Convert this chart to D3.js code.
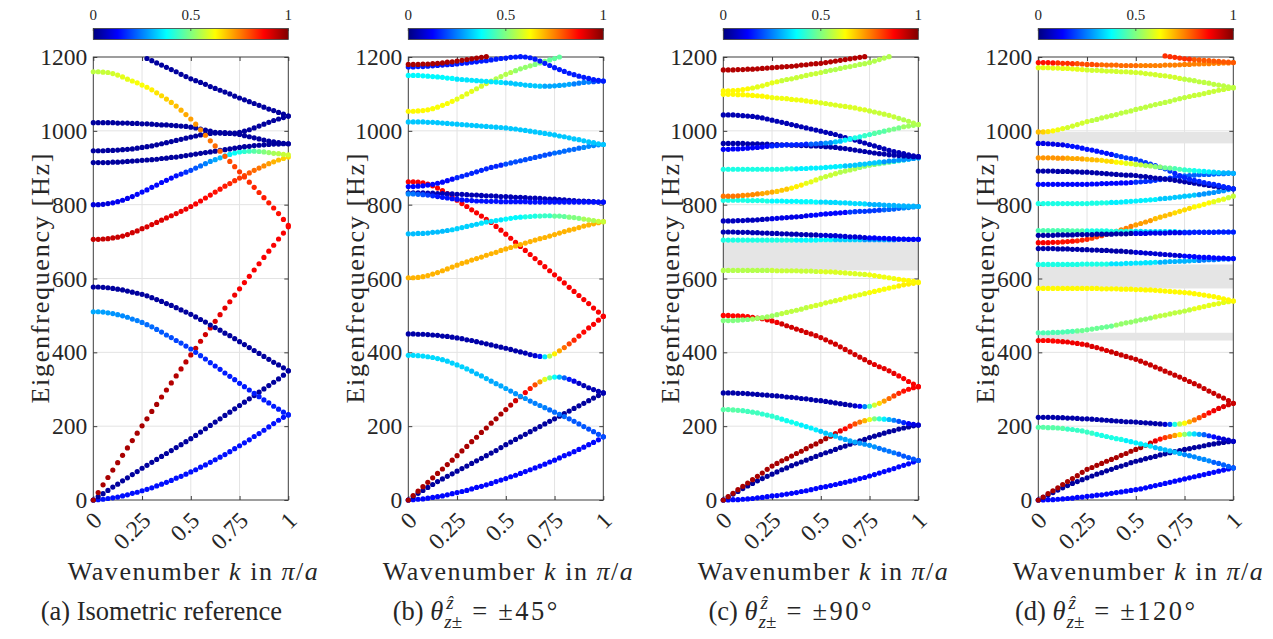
<!DOCTYPE html>
<html><head><meta charset="utf-8">
<script src="https://cdn.jsdelivr.net/npm/d3@7"></script>
<style>
body{margin:0;background:#fff;}
svg text, svg tspan{font-family:"Liberation Serif","Times New Roman",serif !important;fill:#262626;}
</style>
</head><body>
<svg id="chart" width="1273" height="639"></svg>
<script>
// ---------------- DATA ----------------
const kSamples = [0,0.025,0.05,0.075,0.1,0.125,0.15,0.175,0.2,0.225,0.25,0.275,0.3,0.325,0.35,0.375,0.4,0.425,0.45,0.475,0.5,0.525,0.55,0.575,0.6,0.625,0.65,0.675,0.7,0.725,0.75,0.775,0.8,0.825,0.85,0.875,0.9,0.925,0.95,0.975,1];
const kTicks = [0,0.25,0.5,0.75,1];
const kTickLabels = ["0","0.25","0.5","0.75","1"];
const fTicks = [0,200,400,600,800,1000,1200];
const cbTicks = [0,0.5,1];
const cbTickLabels = ["0","0.5","1"];
const panelLetters = ["(a)","(b)","(c)","(d)"];
const panelAngles = ["", "\u00B145\u00B0", "\u00B190\u00B0", "\u00B1120\u00B0"];

// Panel (a) isometric reference
const freqA = [
 [0,1,2,4,6,8,11,14,18,21,25,29,33,38,43,48,53,59,64,70,76,82,89,95,102,109,116,123,131,139,147,155,163,172,180,189,198,207,216,224,231],
 [0,9,17,26,35,43,52,60,69,77,86,94,102,110,118,126,134,142,150,158,166,175,184,193,202,211,220,229,238,247,256,265,274,283,292,301,310,319,328,338,350],
 [0,20,41,61,81,101,121,141,161,181,201,220,240,259,279,298,317,336,355,374,393,411,430,448,466,484,502,520,537,555,572,589,606,623,640,657,674,690,707,723,740],
 [510,510,509,507,505,502,499,495,490,486,481,475,469,462,455,447,440,432,425,417,409,400,391,382,372,363,354,344,335,326,316,307,298,289,280,271,263,254,246,238,230],
 [577,577,576,575,573,571,569,566,563,560,557,553,548,543,538,532,527,521,515,509,503,496,489,482,474,467,460,452,445,437,429,421,413,405,397,389,381,373,366,358,350],
 [706,706,707,708,710,712,715,719,724,729,735,740,746,752,758,764,770,776,782,788,795,802,810,818,826,834,842,850,857,865,872,879,886,893,899,905,911,916,921,925,929],
 [800,800,801,803,805,808,812,817,822,828,834,840,847,853,860,866,872,878,883,888,893,899,905,911,917,922,927,932,936,940,943,944,945,945,944,943,941,939,938,936,935],
 [914,914,914,914,915,915,916,917,918,919,920,921,922,923,925,926,928,929,931,933,935,937,939,941,943,945,947,949,951,953,955,957,958,960,961,962,963,964,964,965,965],
 [946,946,946,947,947,948,949,950,951,953,955,957,959,962,965,968,971,974,977,980,983,986,989,991,993,994,995,995,994,992,990,987,984,981,978,975,972,970,968,966,965],
 [1022,1022,1022,1022,1022,1021,1021,1021,1020,1020,1019,1019,1018,1017,1016,1016,1015,1014,1013,1012,1010,1008,1005,1002,999,996,994,993,993,994,996,999,1003,1008,1013,1018,1023,1028,1032,1036,1040],
 [1160,1160,1159,1158,1155,1151,1146,1140,1135,1130,1124,1118,1111,1103,1095,1086,1077,1067,1056,1044,1032,1018,1003,988,973,959,945,931,917,903,889,875,861,847,833,819,805,791,776,760,744],
 [null,null,null,null,null,null,null,null,null,null,null,1196,1190,1184,1178,1172,1166,1160,1153,1147,1141,1136,1131,1126,1120,1115,1110,1105,1100,1094,1089,1084,1079,1074,1069,1064,1059,1055,1050,1045,1040]
];
// colour value (0..1) per curve: a number, or [value,count] runs along k, or an explicit list
const colA = [
 .14, .03,
 [[.96,14],[.95,4],[.94,2],[.93,2],[.92,2],[.91,2],[.9,2],[.89,2],[.88,11]],
 [[.29,2],[.28,2],[.27,2],[.26,2],[.25,2],[.24,1],[.23,2],[.22,1],[.21,2],[.2,1],[.19,2],[.18,2],[.17,2],[.16,2],[.15,16]],
 .03,
 [[.93,6],[.92,5],[.91,4],[.9,3],[.89,3],[.88,2],[.87,2],[.86,2],[.85,1],[.84,1],[.83,1],[.82,1],[.8,1],[.79,1],[.77,1],[.76,1],[.74,1],[.72,1],[.7,1],[.69,1],[.67,1],[.66,1]],
 [[.09,4],[.11,5],[.13,8],[.14,1],[.15,1],[.17,1],[.19,1],[.21,1],[.23,1],[.25,1],[.27,1],[.29,1],[.31,1],[.34,1],[.36,1],[.38,1],[.4,1],[.42,1],[.44,1],[.46,1],[.48,1],[.5,1],[.52,1],[.54,1],[.55,1],[.57,1],[.58,1]],
 .03, .03, .03,
 [.56,.56,.57,.57,.58,.59,.6,.6,.61,.62,.62,.63,.64,.65,.66,.67,.68,.69,.7,.71,.72,.73,.74,.75,.76,.77,.78,.79,.8,.81,.82,.82,.83,.84,.84,.85,.85,.86,.86,.87,.87],
 .03
];
const gapsA = [];

// Panel (b) +-45
const freqB = [
 [0,1,2,3,5,7,9,11,14,17,20,23,26,30,34,37,41,45,50,54,58,63,67,72,77,82,87,92,97,103,108,114,120,125,131,137,143,150,156,163,171],
 [0,9,18,26,34,42,50,57,64,71,78,85,92,99,106,113,120,127,134,142,150,157,164,171,178,185,192,199,206,213,220,227,234,241,248,255,262,269,276,283,290],
 [0,12,24,36,48,60,72,84,96,108,120,133,145,158,170,183,195,208,220,233,245,257,269,280,291,302,312,320,327,331,333,333,331,327,322,316,310,304,299,294,290],
 [392,392,391,390,388,386,383,380,376,371,366,361,355,349,342,336,329,322,315,309,302,295,288,281,275,268,262,256,250,244,238,232,226,220,213,206,199,192,185,178,171],
 [450,450,449,449,448,447,446,444,443,441,439,437,434,432,429,426,423,420,417,414,411,408,404,401,398,394,391,389,388,390,396,404,413,423,433,444,455,466,476,487,497],
 [862,862,861,859,856,851,845,838,830,821,812,803,795,786,778,769,760,752,741,731,720,709,698,687,676,665,654,643,632,621,610,599,588,576,565,554,543,532,520,509,498],
 [602,602,603,605,608,612,616,621,626,631,636,641,645,650,654,658,663,667,671,676,680,684,688,692,696,700,704,708,711,715,719,723,727,731,734,738,742,745,748,751,754],
 [721,721,722,722,723,725,726,728,730,732,735,738,741,744,747,750,753,755,757,759,761,763,765,766,767,768,769,769,770,770,769,769,768,766,765,763,761,759,757,755,754],
 [832,832,832,832,831,831,830,830,829,829,828,828,827,826,826,825,824,824,823,822,822,821,820,820,819,818,818,817,816,815,815,814,813,812,811,810,810,809,808,807,807],
 [829,829,828,827,826,824,822,820,818,816,815,813,812,811,810,810,809,809,809,808,808,808,808,808,808,807,807,807,807,807,807,807,807,807,807,807,807,807,807,807,807],
 [849,849,850,851,853,855,858,861,865,869,873,877,881,885,889,893,897,901,904,907,910,913,916,919,922,925,928,931,934,937,940,942,945,948,950,953,955,958,960,962,963],
 [1024,1024,1024,1024,1023,1023,1022,1021,1020,1019,1018,1017,1016,1015,1014,1013,1012,1011,1010,1009,1008,1006,1005,1003,1001,999,997,995,993,991,989,986,984,981,978,976,973,970,968,965,963],
 [1053,1053,1054,1055,1057,1060,1064,1069,1074,1080,1086,1093,1100,1107,1114,1121,1128,1135,1141,1147,1153,1158,1163,1168,1172,1176,1180,1184,1188,1192,1196,1200],
 [1150,1150,1150,1149,1148,1147,1146,1145,1143,1142,1140,1139,1138,1137,1136,1135,1134,1133,1132,1131,1130,1129,1127,1126,1124,1123,1122,1121,1121,1121,1122,1123,1124,1126,1127,1129,1131,1132,1133,1134,1135],
 [1173,1173,1174,1174,1175,1176,1177,1178,1179,1180,1181,1183,1184,1186,1187,1189,1190,1192,1194,1196,1197,1199,1200,1201,1200,1198,1194,1189,1183,1177,1171,1166,1161,1156,1152,1148,1145,1142,1139,1137,1135],
 [1180,1180,1180,1181,1181,1182,1183,1184,1186,1187,1189,1191,1193,1195,1197,1199,1201]
];
const colB = [
 .13, .03,
 [[.96,20],[.95,1],[.94,1],[.92,1],[.9,1],[.88,1],[.85,1],[.8,1],[.72,1],[.6,1],[.48,1],[.38,1],[.3,1],[.22,1],[.15,1],[.1,1],[.07,1],[.05,5]],
 [[.34,7],[.33,6],[.31,4],[.29,4],[.27,4],[.25,4],[.23,4],[.21,4],[.2,4]],
 [[.04,24],[.05,1],[.06,1],[.08,1],[.15,1],[.35,1],[.55,1],[.64,1],[.71,1],[.77,1],[.81,1],[.84,1],[.86,1],[.87,1],[.88,4]],
 .88, .7,
 [[.31,9],[.33,6],[.35,5],[.37,4],[.4,3],[.43,3],[.47,3],[.5,3],[.54,3],[.57,2]],
 .05,
 [[.26,1],[.24,1],[.22,1],[.2,1],[.18,1],[.16,1],[.14,35]],
 [[.13,10],[.16,10],[.2,10],[.23,6],[.26,5]],
 .32,
 [[.63,5],[.62,5],[.6,4],[.58,4],[.55,4],[.52,4],[.5,3],[.47,3],[.45,9]],
 [[.37,10],[.35,10],[.32,8],[.29,6],[.25,4],[.2,3]],
 .15, .96
];
const gapsB = [];

// Panel (c) +-90
const freqC = [
 [0,0,1,1,2,3,4,6,7,9,11,12,14,16,18,20,23,25,28,31,34,36,39,42,45,48,51,54,58,61,65,69,73,77,81,85,90,94,98,103,107],
 [0,8,16,23,31,38,45,52,58,64,70,76,82,87,93,98,103,108,113,118,123,128,132,137,142,146,151,155,160,164,169,173,177,181,185,188,192,195,198,201,203],
 [0,9,18,28,37,46,55,64,73,83,92,99,106,112,119,126,132,139,146,152,159,166,173,180,187,193,200,206,211,215,218,220,220,219,218,216,213,210,207,205,203],
 [245,245,244,243,242,240,238,236,233,230,227,223,219,215,211,207,203,199,195,190,186,181,177,173,168,164,160,157,154,151,148,144,140,136,132,128,124,119,115,111,107],
 [290,290,290,289,289,288,287,286,285,284,283,282,281,279,278,277,275,274,272,270,269,267,265,263,261,259,257,255,254,253,254,257,262,268,275,282,289,295,300,304,307],
 [500,500,499,499,498,497,495,493,491,488,485,481,477,472,468,463,459,454,450,445,440,434,428,422,415,408,401,394,387,380,373,367,361,356,350,343,336,329,321,314,307],
 [486,486,486,487,488,489,490,492,494,496,499,502,505,508,511,514,517,521,524,527,530,534,537,540,543,547,550,553,556,559,562,565,568,571,574,577,580,583,585,587,589],
 [622,622,622,622,622,622,622,622,622,622,622,621,621,621,621,621,620,620,620,619,619,618,618,617,616,615,614,613,612,611,610,608,606,604,602,600,598,596,594,592,590],
 [704,704,704,704,704,704,704,704,704,704,704,704,704,704,704,704,704,704,704,704,705,705,705,705,705,705,705,705,705,705,705,705,705,705,705,705,706,706,706,706,706],
 [726,726,726,725,725,725,724,724,723,723,722,722,721,721,720,720,719,719,718,718,717,717,716,716,715,714,713,713,712,711,710,710,709,709,708,708,707,707,706,706,706],
 [756,756,756,757,757,758,758,759,760,761,762,763,764,765,766,767,768,770,771,772,774,775,776,777,778,779,780,781,782,782,783,784,785,786,787,788,790,791,792,794,795],
 [812,812,812,812,812,811,811,811,811,810,810,810,810,809,809,809,808,808,808,807,807,807,806,806,805,805,804,803,803,802,801,800,800,799,798,798,797,797,796,796,795],
 [823,823,823,824,825,826,827,829,830,832,834,836,839,842,845,849,853,858,862,867,872,876,880,884,888,891,894,897,901,904,907,909,911,913,915,917,919,921,923,925,927],
 [896,896,896,896,896,896,896,896,896,896,896,896,896,897,897,897,898,898,899,899,900,901,902,903,904,905,906,907,909,910,912,913,915,916,918,919,921,922,924,925,927],
 [966,966,966,966,966,965,965,965,964,964,963,963,962,962,961,961,960,960,959,959,958,957,956,955,953,952,950,948,946,944,942,940,938,937,935,934,933,932,931,930,930],
 [1043,1043,1043,1042,1041,1040,1039,1037,1035,1032,1029,1026,1023,1020,1017,1014,1011,1008,1005,1002,999,996,993,990,986,982,978,975,971,967,963,959,955,951,947,944,941,938,935,932,930],
 [950,950,951,951,952,953,954,955,956,958,959,960,961,962,962,963,963,964,964,965,966,967,968,970,972,975,978,981,984,987,990,993,996,999,1002,1005,1008,1011,1013,1015,1017],
 [1099,1099,1099,1098,1098,1097,1096,1095,1094,1092,1090,1089,1088,1087,1085,1084,1083,1081,1079,1078,1076,1074,1072,1070,1068,1066,1064,1062,1059,1057,1054,1051,1048,1045,1042,1038,1034,1030,1026,1021,1017],
 [1108,1108,1109,1110,1112,1114,1116,1119,1122,1126,1130,1133,1136,1139,1141,1144,1147,1150,1153,1155,1158,1161,1164,1166,1169,1172,1174,1177,1180,1182,1185,1189,1193,1197,1201],
 [1165,1165,1165,1166,1166,1167,1167,1168,1169,1170,1171,1172,1173,1174,1175,1176,1178,1179,1181,1182,1183,1185,1187,1189,1191,1193,1195,1197,1199,1201]
];
const colC = [
 .13, .03,
 [[.96,22],[.94,1],[.92,1],[.9,1],[.87,1],[.84,1],[.8,1],[.76,1],[.7,1],[.6,1],[.5,1],[.42,1],[.36,1],[.3,1],[.25,1],[.2,1],[.16,1],[.12,1],[.1,1],[.08,1]],
 [[.46,4],[.44,4],[.42,4],[.39,4],[.36,4],[.32,4],[.29,4],[.27,4],[.24,4],[.21,5]],
 [[.04,27],[.07,1],[.12,1],[.25,1],[.45,1],[.58,1],[.66,1],[.72,1],[.77,1],[.81,1],[.84,1],[.86,1],[.87,1],[.88,2]],
 [[.87,6],[.89,6],[.92,19],[.9,5],[.88,5]],
 [[.5,6],[.53,6],[.56,6],[.58,6],[.6,6],[.62,6],[.64,5]],
 [[.55,10],[.57,10],[.59,10],[.61,6],[.63,5]],
 [[.4,15],[.37,8],[.33,6],[.28,6],[.23,6]],
 [[.05,20],[.08,10],[.12,11]],
 [[.06,10],[.1,8],[.13,8],[.18,7],[.22,4],[.26,4]],
 [[.4,10],[.37,10],[.34,10],[.3,11]],
 [[.76,4],[.74,4],[.71,3],[.68,3],[.64,3],[.6,3],[.57,4],[.55,4],[.52,4],[.48,3],[.42,3],[.35,3]],
 [[.4,15],[.36,10],[.32,8],[.27,8]],
 .04, .05,
 [[.12,10],[.16,8],[.22,3],[.27,2],[.32,2],[.37,2],[.4,2],[.43,2],[.46,3],[.49,3],[.53,4]],
 [[.63,10],[.61,10],[.59,10],[.57,6],[.55,5]],
 [[.63,6],[.6,6],[.57,9],[.55,20]],
 .95
];
const gapsC = [[622,704]];

// Panel (d) +-120
const freqD = [
 [0,0,1,1,2,3,4,5,7,8,10,11,13,14,16,18,20,22,24,26,28,30,33,36,39,42,45,48,51,54,57,60,63,66,69,72,75,78,81,84,87],
 [0,7,14,20,27,33,39,45,50,55,60,65,70,74,79,83,88,92,96,101,105,108,112,115,118,122,125,128,131,134,137,139,142,144,147,150,152,154,156,158,159],
 [0,8,17,25,33,42,50,58,66,75,83,88,94,99,105,110,115,121,126,132,137,142,148,154,160,165,169,172,175,177,178,179,179,178,177,174,171,168,165,162,159],
 [197,197,196,196,195,194,192,191,189,187,184,181,178,175,172,169,166,164,161,158,155,152,149,146,142,139,136,133,130,126,123,120,117,113,110,106,102,99,95,91,87],
 [224,224,224,224,223,223,222,222,221,220,220,219,218,217,216,215,214,213,212,212,211,210,209,208,207,206,205,205,205,206,208,212,217,223,229,236,242,248,253,258,262],
 [432,432,432,431,430,429,428,426,424,422,420,416,413,409,405,401,397,393,389,385,381,376,371,366,360,355,349,344,338,333,327,321,315,309,302,295,289,282,276,269,262],
 [453,453,453,454,454,455,456,457,458,459,461,463,465,467,469,471,474,477,480,482,485,488,490,493,496,499,501,504,507,509,512,515,518,521,524,527,530,532,535,537,539],
 [573,573,573,573,573,573,573,573,573,573,573,573,573,572,572,572,572,571,571,571,570,570,569,569,568,567,566,565,564,563,562,561,559,557,555,553,551,548,545,542,539],
 [638,638,638,638,638,638,638,638,638,639,639,639,639,639,639,640,640,640,641,641,642,642,643,643,644,644,645,646,646,647,647,648,649,649,650,651,651,652,653,653,654],
 [681,681,681,681,680,680,680,679,679,678,678,677,677,676,676,675,674,674,673,672,671,670,669,668,667,666,665,664,663,662,661,660,659,658,657,657,656,655,655,654,654],
 [697,697,697,698,698,699,700,701,702,704,706,709,713,716,720,724,728,732,736,741,745,749,753,757,762,766,770,774,778,782,786,790,794,797,801,805,808,812,815,819,823],
 [730,730,730,730,730,730,730,729,729,729,729,729,729,729,729,728,728,728,728,728,728,728,727,727,727,727,727,727,727,726,726,726,726,726,726,726,726,726,726,726,726],
 [717,717,717,717,718,718,718,718,719,719,719,719,720,720,720,720,721,721,721,722,722,722,722,723,723,723,723,724,724,724,724,724,725,725,725,725,725,726,726,726,726],
 [803,803,803,803,803,803,803,803,803,803,803,804,804,805,805,806,806,807,808,809,810,811,812,813,814,816,817,818,820,821,823,824,826,827,829,831,833,836,838,841,843],
 [855,855,855,855,855,855,855,855,855,855,855,856,856,857,857,858,858,859,859,860,861,862,863,864,866,868,870,872,874,876,878,879,880,881,882,882,883,884,884,885,885],
 [891,891,891,891,890,890,890,889,889,888,888,887,886,885,884,883,882,881,880,880,879,877,876,874,872,871,869,868,866,864,862,860,858,856,854,852,850,848,847,845,843],
 [966,966,965,964,963,962,960,958,956,953,950,948,945,942,939,936,933,930,927,925,923,918,914,910,906,901,897,891,885,879,873,869,866,863,860,857,855,852,849,846,843],
 [927,927,927,927,926,926,926,925,925,924,923,922,921,920,918,917,915,914,912,911,909,908,906,905,903,902,900,899,898,896,894,893,892,891,890,889,888,887,886,886,885],
 [997,997,998,1000,1003,1006,1009,1013,1017,1021,1025,1028,1031,1035,1038,1041,1044,1048,1051,1054,1058,1061,1064,1068,1071,1074,1077,1080,1084,1087,1090,1093,1096,1098,1101,1104,1107,1110,1112,1115,1117],
 [1171,1171,1171,1170,1170,1169,1169,1168,1167,1166,1165,1164,1164,1163,1162,1162,1161,1160,1160,1159,1158,1157,1155,1154,1152,1150,1149,1147,1145,1142,1140,1138,1136,1133,1131,1129,1126,1124,1122,1119,1117],
 [1185,1185,1185,1184,1184,1183,1183,1182,1182,1181,1180,1180,1179,1179,1178,1178,1178,1177,1177,1177,1177,1177,1177,1177,1177,1177,1178,1178,1178,1179,1180,1180,1181,1181,1182,1182,1183,1183,1184,1184,1185],
 [null,null,null,null,null,null,null,null,null,null,null,null,null,null,null,null,null,null,null,null,null,null,null,null,null,null,1203,1201,1199,1197,1195,1194,1193,1192,1191,1190,1189,1188,1187,1186,1185]
];
const colD = [
 .13, .03,
 [[.96,22],[.94,1],[.92,1],[.9,1],[.86,1],[.82,1],[.78,1],[.72,1],[.64,1],[.52,1],[.42,1],[.34,1],[.28,1],[.22,1],[.17,1],[.13,1],[.1,1],[.08,1],[.07,2]],
 [[.46,6],[.43,6],[.4,6],[.36,6],[.31,6],[.26,6],[.22,5]],
 [[.04,26],[.08,1],[.2,1],[.4,1],[.55,1],[.63,1],[.7,1],[.76,1],[.8,1],[.84,1],[.87,1],[.89,1],[.9,1],[.91,1],[.92,2]],
 [[.87,5],[.89,5],[.91,5],[.93,26]],
 [[.45,8],[.48,8],[.52,8],[.56,8],[.6,9]],
 .63,
 [[.4,15],[.35,10],[.3,8],[.25,8]],
 [[.04,20],[.08,10],[.13,11]],
 [[.88,4],[.86,4],[.84,3],[.81,3],[.78,3],[.75,3],[.72,4],[.69,4],[.66,4],[.63,4],[.6,3],[.57,2]],
 [[.45,10],[.4,10],[.34,10],[.27,11]],
 [[.04,20],[.1,10],[.15,11]],
 [[.4,15],[.36,10],[.32,8],[.27,8]],
 [[.13,20],[.17,10],[.22,11]],
 .04,
 [[.1,6],[.14,10],[.18,12],[.16,13]],
 [[.73,6],[.71,4],[.69,3],[.66,3],[.63,2],[.6,2],[.57,2],[.54,2],[.51,2],[.48,2],[.45,2],[.42,2],[.39,2],[.36,2],[.33,2],[.3,3]],
 [[.69,1],[.67,1],[.65,1],[.63,1],[.61,1],[.6,1],[.58,5],[.56,20],[.57,10]],
 [[.6,10],[.58,20],[.56,11]],
 [[.86,4],[.83,4],[.8,5],[.77,8],[.75,20]],
 [[.83,32],[.79,9]]
];
const gapsD = [[966,997],[573,638],[432,453]];

// ---------------- DRAWING ----------------
const panels = [
  {freq: freqA, col: colA, gaps: gapsA},
  {freq: freqB, col: colB, gaps: gapsB},
  {freq: freqC, col: colC, gaps: gapsC},
  {freq: freqD, col: colD, gaps: gapsD}
];
const svg = d3.select("#chart");
const W = 195, TOP = 57, BOT = 500;
const lefts = [93.3, 408.3, 723.3, 1038.3];
const x = d3.scaleLinear().domain([0,1]).range([0, W]);
const y = d3.scaleLinear().domain([0,1200]).range([BOT, TOP]);
const cScale = d3.scaleLinear().domain([0,1]).range([0, W]);

function jet(t){
  const cl = v => Math.max(0, Math.min(1, v));
  const r = cl(1.5 - Math.abs(4*t - 3)), g = cl(1.5 - Math.abs(4*t - 2)), b = cl(1.5 - Math.abs(4*t - 1));
  return d3.rgb(r*255, g*255, b*255).formatHex();
}
function expandCol(c){
  if (typeof c === "number") return kSamples.map(() => c);
  if (typeof c[0] === "number") return c;
  const out = [];
  c.forEach(([v,n]) => { for (let i=0;i<n;i++) out.push(v); });
  while (out.length < kSamples.length) out.push(out[out.length-1]);
  return out;
}

const defs = svg.append("defs");
const grad = defs.append("linearGradient").attr("id","jetGrad").attr("x1","0").attr("x2","1").attr("y1","0").attr("y2","0");
d3.range(0, 1.0001, 1/64).forEach(t => grad.append("stop").attr("offset", t).attr("stop-color", jet(t)));

const AXC = "#3c3c3c";
const TICKFS = 23.5;
panels.forEach((p, pi) => {
  const L = lefts[pi];
  const g = svg.append("g").attr("transform", `translate(${L},0)`);

  // grid
  g.append("g").selectAll("line").data(kTicks.slice(1,-1)).join("line")
    .attr("x1", d => x(d)).attr("x2", d => x(d)).attr("y1", TOP).attr("y2", BOT)
    .attr("stroke", "#e3e3e3").attr("stroke-width", 1);
  g.append("g").selectAll("line").data(fTicks.slice(1,-1)).join("line")
    .attr("x1", 0).attr("x2", W).attr("y1", d => y(d)).attr("y2", d => y(d))
    .attr("stroke", "#e3e3e3").attr("stroke-width", 1);

  // band gaps
  g.append("g").selectAll("rect").data(p.gaps).join("rect")
    .attr("x", 0).attr("width", W).attr("y", d => y(d[1])).attr("height", d => y(d[0]) - y(d[1]))
    .attr("fill", "#e5e5e5");

  // axes (inward ticks, box)
  const ax = [
    g.append("g").call(d3.axisLeft(y).tickValues(fTicks).tickSize(-4).tickPadding(6).tickFormat(d3.format("d"))),
    g.append("g").attr("transform", `translate(${W},0)`).call(d3.axisRight(y).tickValues(fTicks).tickSize(-4).tickFormat("")),
    g.append("g").attr("transform", `translate(0,${BOT})`).call(d3.axisBottom(x).tickValues(kTicks).tickSize(-4).tickFormat("")),
    g.append("g").attr("transform", `translate(0,${TOP})`).call(d3.axisTop(x).tickValues(kTicks).tickSize(-4).tickFormat(""))
  ];
  ax.forEach(a => { a.select(".domain").remove(); a.selectAll(".tick line").attr("stroke", AXC); });
  ax[0].selectAll(".tick text").attr("font-size", TICKFS).attr("fill", "#262626");
  g.append("rect").attr("x", 0).attr("y", TOP).attr("width", W).attr("height", BOT - TOP)
    .attr("fill", "none").attr("stroke", AXC).attr("stroke-width", 1);

  // rotated k tick labels
  g.append("g").selectAll("text").data(kTicks).join("text")
    .attr("transform", (d) => `translate(${x(d)+10},${BOT+22}) rotate(-45)`)
    .attr("text-anchor", "end").attr("font-size", TICKFS)
    .text((d,i) => kTickLabels[i]);

  // dots
  p.freq.forEach((arr, ci) => {
    const cols = expandCol(p.col[ci]);
    const pts = arr.map((f, i) => ({k: kSamples[i], f, c: cols[i]})).filter(d => d.f != null);
    g.append("g").selectAll("circle").data(pts).join("circle")
      .attr("cx", d => x(d.k)).attr("cy", d => y(d.f)).attr("r", 2.6)
      .attr("fill", d => jet(d.c));
  });

  // colorbar
  const cb = g.append("g");
  cb.append("rect").attr("x", 0).attr("y", 28.5).attr("width", W).attr("height", 11)
    .attr("fill", "url(#jetGrad)").attr("stroke", AXC).attr("stroke-width", 0.8);
  cb.selectAll("line").data(cbTicks).join("line")
    .attr("x1", d => cScale(d)).attr("x2", d => cScale(d)).attr("y1", 28.5).attr("y2", 31)
    .attr("stroke", AXC).attr("stroke-width", 0.8);
  cb.selectAll("text").data(cbTicks).join("text")
    .attr("x", d => cScale(d)).attr("y", 20).attr("text-anchor", "middle").attr("font-size", 15)
    .text((d,i) => cbTickLabels[i]);

  // axis labels
  g.append("text").attr("transform", `translate(${-44},${(TOP+BOT)/2}) rotate(-90)`)
    .attr("text-anchor", "middle").attr("font-size", 26)
    .attr("textLength", 250).attr("lengthAdjust", "spacing").text("Eigenfrequency [Hz]");
  const xl = g.append("text").attr("x", W/2 + 2).attr("y", 580).attr("text-anchor", "middle").attr("font-size", 26)
    .attr("textLength", 250).attr("lengthAdjust", "spacing");
  xl.append("tspan").text("Wavenumber ");
  xl.append("tspan").attr("font-style", "italic").text("k");
  xl.append("tspan").text(" in ");
  xl.append("tspan").attr("font-style", "italic").text("\u03C0");
  xl.append("tspan").text("/");
  xl.append("tspan").attr("font-style", "italic").text("a");

  // caption
  const capY = 620, capCx = 68, CAPFS = 26.5;
  if (pi === 0) {
    g.append("text").attr("x", capCx).attr("y", capY).attr("text-anchor", "middle").attr("font-size", CAPFS)
      .text(panelLetters[pi] + " Isometric reference");
  } else {
    const cg = g.append("g");
    const t1 = cg.append("text").attr("x", 0).attr("y", capY).attr("font-size", CAPFS);
    t1.append("tspan").text(panelLetters[pi] + " ");
    t1.append("tspan").attr("font-style", "italic").text("\u03B8");
    const w1 = t1.node().getComputedTextLength();
    const sup = cg.append("text").attr("x", w1 + 3).attr("y", capY - 11).attr("font-size", 19).attr("font-style", "italic").text("\u1E91");
    const sub = cg.append("text").attr("x", w1 + 1).attr("y", capY + 8).attr("font-size", 19);
    sub.append("tspan").attr("font-style", "italic").text("z");
    sub.append("tspan").text("\u00B1");
    const w2 = Math.max(sup.node().getComputedTextLength(), sub.node().getComputedTextLength()) + 1;
    const g1 = 10, g2 = 11;
    const eq = cg.append("text").attr("x", w1 + w2 + g1).attr("y", capY).attr("font-size", CAPFS).text("=");
    const we = eq.node().getComputedTextLength();
    const t2 = cg.append("text").attr("x", w1 + w2 + g1 + we + g2).attr("y", capY).attr("font-size", CAPFS)
      .attr("letter-spacing", 2.5).text(panelAngles[pi]);
    const total = w1 + w2 + g1 + we + g2 + t2.node().getComputedTextLength();
    cg.attr("transform", `translate(${capCx - total/2},0)`);
  }
});
</script>
</body></html>
